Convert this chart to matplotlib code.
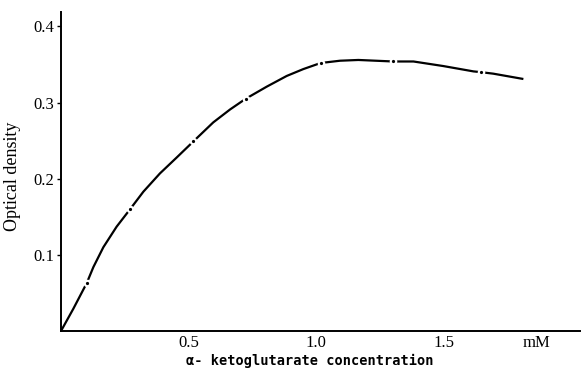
import numpy as np
import matplotlib.pyplot as plt

# optical density vs alpha-ketoglutarate concentration (mM)
conc = [0, 0.048, 0.101, 0.127, 0.166, 0.218, 0.271, 0.323, 0.388, 0.454,
        0.519, 0.597, 0.663, 0.724, 0.807, 0.885, 0.950, 1.018, 1.094, 1.166,
        1.303, 1.382, 1.499, 1.617, 1.646, 1.695, 1.813]
od = [0, 0.029, 0.063, 0.084, 0.110, 0.137, 0.160, 0.183, 0.207, 0.228,
      0.249, 0.274, 0.291, 0.305, 0.321, 0.335, 0.344, 0.352, 0.355, 0.356,
      0.354, 0.354, 0.348, 0.341, 0.340, 0.338, 0.331]

# indices of the measured points along the curve
measured = [2, 6, 10, 13, 17, 20, 24]

xticks = [0.5, 1.0, 1.5, 1.865]
xticklabels = ["0.5", "1.0", "1.5", "mM"]
yticks = [0.1, 0.2, 0.3, 0.4]
yticklabels = ["0.1", "0.2", "0.3", "0.4"]

serif = ["Liberation Serif", "DejaVu Serif"]

fig = plt.figure(figsize=(5.82, 3.70), dpi=100)
ax = fig.add_axes([61 / 582, 39 / 370, 519 / 582, 319 / 370])

ax.plot(conc, od, color="black", lw=1.6, solid_capstyle="butt",
        solid_joinstyle="round")
# break the line around each measured point, then put the dot back
ax.plot(conc, od, ls="none", marker="o", markevery=measured,
        ms=5.5, mfc="white", mec="white", mew=0)
ax.plot(conc, od, ls="none", marker="o", markevery=measured,
        ms=2.3, mfc="black", mec="black", mew=0)

ax.set_xlim(0, 2.035)
ax.set_ylim(0, 0.419)

for side in ["top", "right"]:
    ax.spines[side].set_visible(False)
for side in ["left", "bottom"]:
    ax.spines[side].set_linewidth(1.4)

ax.set_xticks(xticks)
ax.set_xticklabels(xticklabels, family=serif, fontsize=12)
ax.set_yticks(yticks)
ax.set_yticklabels(yticklabels, family=serif, fontsize=12)
ax.tick_params(axis="x", length=0, pad=3)
ax.tick_params(axis="y", length=3, width=1, direction="out", pad=2)

ax.set_ylabel("Optical density", family=serif, fontsize=13)
ax.yaxis.set_label_coords(-0.077, 0.486)
ax.set_xlabel("α- ketoglutarate concentration",
              family=["DejaVu Sans Mono"], fontweight="bold", fontsize=9.8)
ax.xaxis.set_label_coords(0.48, -0.072)

fig.savefig("out.png", dpi=100)
